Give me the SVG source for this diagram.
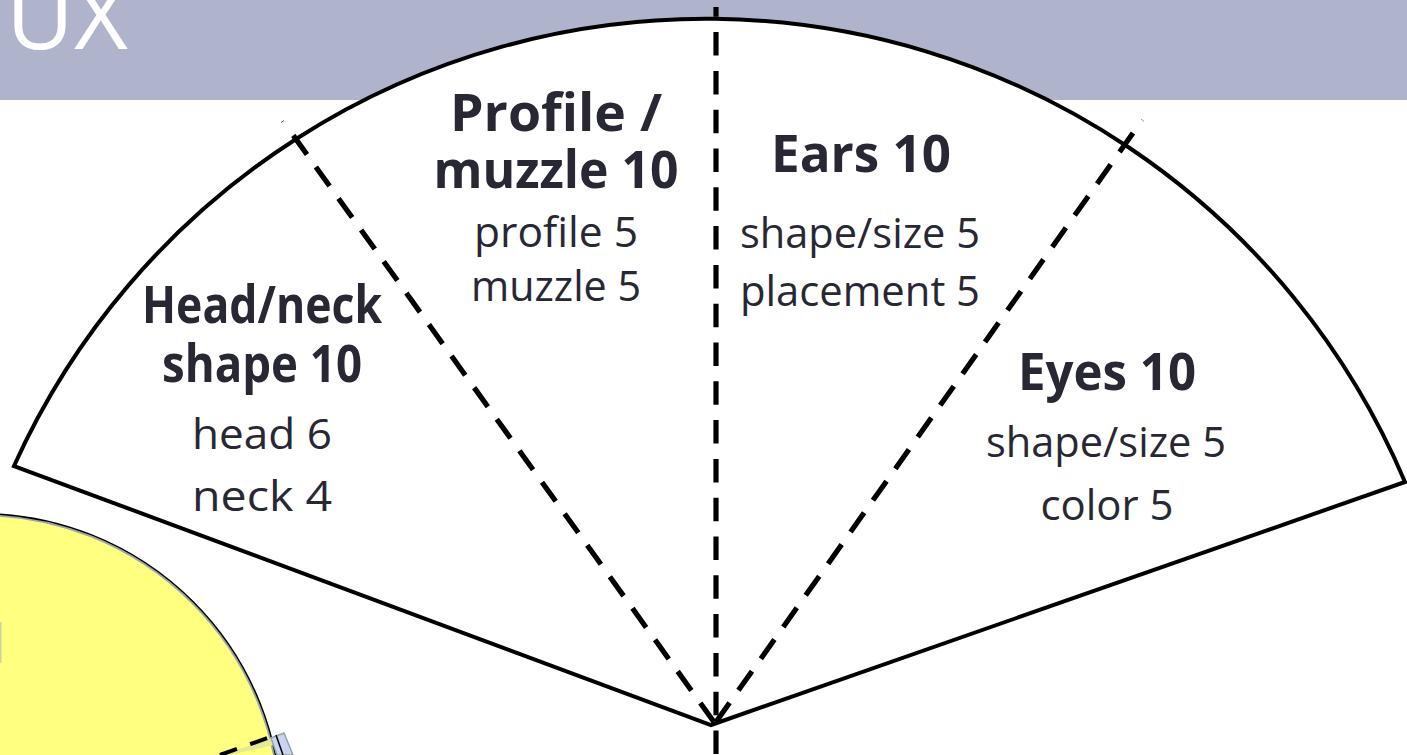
<svg xmlns="http://www.w3.org/2000/svg" width="1407" height="755" viewBox="0 0 1407 755">
<style>
.b{font-family:"Open Sans","Noto Sans",sans-serif;font-weight:700;font-size:52px;fill:#282834;text-anchor:middle}
.r{font-family:"Open Sans","Noto Sans",sans-serif;font-weight:400;font-size:42px;fill:#282834;text-anchor:middle}
.dash{stroke:#000;stroke-width:5.2;stroke-dasharray:23.5 15.3;fill:none}
</style>
<rect id="band" x="0" y="0" width="1407" height="100" fill="#afb3cb"/>
<text id="title" x="6" y="49" font-family="'Open Sans','Noto Sans',sans-serif" font-weight="400" font-size="92" fill="#ffffff" textLength="122" lengthAdjust="spacingAndGlyphs">UX</text>
<g id="yellow-part">
<circle cx="-20" cy="815" r="300" fill="#ffff80" stroke="#9aa8a8" stroke-width="2"/>
<circle cx="-20" cy="815" r="301.5" fill="none" stroke="#000" stroke-width="1.5"/>
<rect x="0" y="622" width="1.5" height="41" fill="#d0d0a0"/>
<polygon points="222,755 274,737 278,744 230,755" fill="#e4ea94"/>
<polygon points="271,738 284,733 293,755 277,755" fill="#c8d4f2" stroke="#98a4a4" stroke-width="1.5"/>
<line x1="220" y1="755" x2="276" y2="735" stroke="#000" stroke-width="4" stroke-dasharray="18 14"/>
<line x1="276" y1="735" x2="283" y2="755" stroke="#000" stroke-width="1.5"/>
</g>
<g id="fan">
<path d="M14,466 A759,759 0 0,1 1405,482 L711,725 Z" fill="#ffffff" stroke="#000" stroke-width="4" stroke-linejoin="miter"/>
</g>
<g id="connectors">
<path class="dash" d="M716,754 L716,7"/>
<path class="dash" d="M714,722 L293,135"/>
<path class="dash" d="M716,722 L1133,133"/>
<line x1="281" y1="122.5" x2="284" y2="120.5" stroke="#555" stroke-width="1"/>
<line x1="1141" y1="119" x2="1144" y2="121.5" stroke="#999" stroke-width="1"/>
</g>
<g id="node-head-neck">
<text class="b" x="262" y="323" textLength="240" lengthAdjust="spacingAndGlyphs">Head/neck</text>
<text class="b" x="262" y="382" textLength="200" lengthAdjust="spacingAndGlyphs">shape 10</text>
<text class="r" x="262" y="449" textLength="140" lengthAdjust="spacingAndGlyphs">head 6</text>
<text class="r" x="262" y="511" textLength="140" lengthAdjust="spacingAndGlyphs">neck 4</text>
</g>
<g id="node-profile-muzzle">
<text class="b" x="556" y="131" textLength="212" lengthAdjust="spacingAndGlyphs">Profile /</text>
<text class="b" x="556" y="188" textLength="245" lengthAdjust="spacingAndGlyphs">muzzle 10</text>
<text class="r" x="556" y="247" textLength="164" lengthAdjust="spacingAndGlyphs">profile 5</text>
<text class="r" x="556" y="301" textLength="170" lengthAdjust="spacingAndGlyphs">muzzle 5</text>
</g>
<g id="node-ears">
<text class="b" x="861" y="172" textLength="180" lengthAdjust="spacingAndGlyphs">Ears 10</text>
<text class="r" x="860" y="248" textLength="240" lengthAdjust="spacingAndGlyphs">shape/size 5</text>
<text class="r" x="860" y="306" textLength="240" lengthAdjust="spacingAndGlyphs">placement 5</text>
</g>
<g id="node-eyes">
<text class="b" x="1107" y="390" textLength="178" lengthAdjust="spacingAndGlyphs">Eyes 10</text>
<text class="r" x="1106" y="457" textLength="240" lengthAdjust="spacingAndGlyphs">shape/size 5</text>
<text class="r" x="1107" y="520" textLength="133" lengthAdjust="spacingAndGlyphs">color 5</text>
</g>
</svg>
